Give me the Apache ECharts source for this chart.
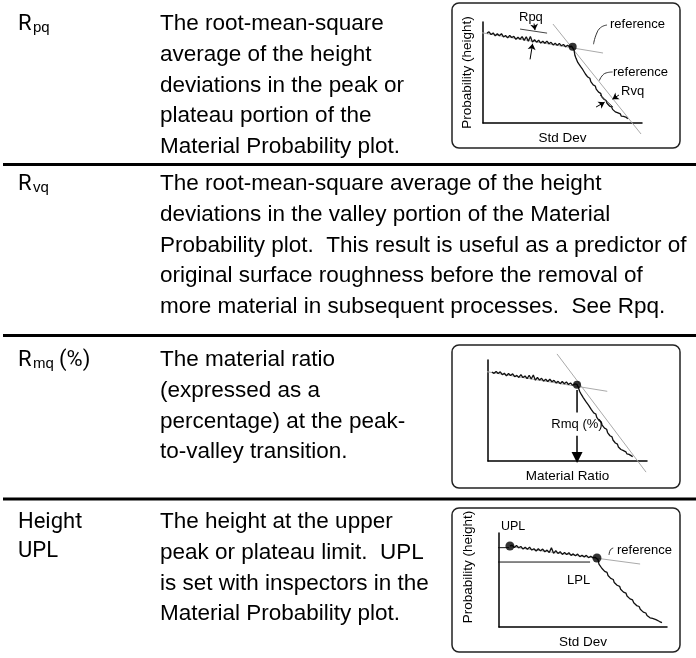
<!DOCTYPE html>
<html><head><meta charset="utf-8">
<script src="https://cdn.jsdelivr.net/npm/echarts@6/dist/echarts.min.js"></script>
<style>html,body{margin:0;padding:0;background:#fff}#c{width:696px;height:658px}</style>
</head><body><div id="c"></div>
<script>
// ---------- text content ----------
const rowLabels = [
  [{t:'R', k:'main'}, {t:'pq', k:'sub'}],
  [{t:'R', k:'main'}, {t:'vq', k:'sub'}],
  [{t:'R', k:'main'}, {t:'mq', k:'sub'}, {t:'(%)', k:'main'}],
  [{t:'Height', k:'main'}]
];
const rowLabel2 = ['', '', '', 'UPL'];
const rowTexts = [
  ['The root-mean-square', 'average of the height', 'deviations in the peak or', 'plateau portion of the', 'Material Probability plot.'],
  ['The root-mean-square average of the height', 'deviations in the valley portion of the Material', 'Probability plot.  This result is useful as a predictor of', 'original surface roughness before the removal of', 'more material in subsequent processes.  See Rpq.'],
  ['The material ratio', '(expressed as a', 'percentage) at the peak-', 'to-valley transition.'],
  ['The height at the upper', 'peak or plateau limit.  UPL', 'is set with inspectors in the', 'Material Probability plot.']
];
const rowTop = [24, 184, 360, 522];
const lineStep = 30.7;
const separators = [164.5, 335.5, 499];

// ---------- diagram 1 (Rpq / Rvq) ----------
const curve1 = [[2.5,89],[3.8,90.3],[5.1,87.55],[6.4,89.2],[7.7,86.3],[9,88.3],[10.3,86.45],[11.6,88.5],[12.9,85.2],[14.2,86.6],[15.5,84.25],[16.8,86.7],[18.1,84.7],[19.4,85.8],[20.7,82.85],[22,84.9],[23.3,82.9],[24.6,85.5],[25.9,81.85],[27.2,85.4],[28.5,81],[29.8,85.7],[31.1,80.05],[32.4,82.4],[33.7,80],[35,82],[36.3,79.15],[37.6,80.9],[38.9,78.9],[40.2,81.1],[41.5,78.45],[42.8,79.9],[44.1,77.3],[45.4,78.9],[46.7,76.85],[48,78.8],[49.3,76.4],[50.6,77.8],[51.9,75.45],[53.2,77],[54.5,75.4],[55.8,76],[56.6,75.5],
  [57.3,72],[57.8,67],[58.5,64],[59.2,63.5],[59.6,60],[60.8,59.2],[61.3,56],[62.2,57],[62.7,53],[63.9,52],[64.4,48.5],[65.3,49.2],[65.9,45.5],[67.2,44.3],[67.8,41],[68.7,41.6],[69.3,37.8],[70.6,36.6],[71.2,33.5],[72.1,34],[72.7,30.5],[74,29.4],[74.6,26.2],[75.5,26.8],[76.1,23.5],[77.4,22.3],[78,19.5],[79,20],[79.6,16.8],[80.9,15.9],[81.5,13.5],[82.5,14],[83.2,11],[84.5,10.3],[85.2,8.5],[86.4,9],[87,6.8],[88.4,6.5],[89.2,5],[90.2,5.6],[91,4]];
const ref1a = [[-4,90.2],[75.5,69.3]];
const ref1b = [[44,98],[99.4,-10.9]];
const knee1 = [[56.4,75.5]];
const rpqLine = [[23.3,93],[40.3,89]];
const rvqLine = [[73.6,27.7],[81.8,15.8]];
const arrows1 = [[[32.1,98.5],[32.7,92]],[[29.6,63],[31.2,78.5]],[[85.5,27.7],[81.4,23.6]],[[71.1,15.8],[76.5,20.6]]];
const leader1a = [[78,97],[74,94.5],[71.3,88],[69.5,78]];
const leader1b = [[81.5,50.5],[77.5,49.6],[74.8,46.5],[73.2,42]];

// ---------- diagram 2 (Rmq) ----------
const curve2 = [[2.5,88],[3.8,86.8],[5.1,88.7],[6.4,86.6],[7.7,88.3],[9,85.4],[10.3,86.9],[11.6,84.3],[12.9,86.6],[14.2,84.7],[15.5,86.35],[16.8,83.45],[18.1,84.75],[19.4,82.75],[20.7,85.45],[22,82.65],[23.3,84.25],[24.6,81.45],[25.9,84.9],[27.2,81.2],[28.5,85.1],[29.8,80],[31.1,82.7],[32.4,80.1],[33.7,81.9],[35,79.1],[36.3,80.9],[37.6,78.7],[38.9,80.9],[40.2,78.5],[41.5,79.85],[42.8,77.35],[44.1,78.85],[45.4,76.55],[46.7,78.75],[48,76.55],[49.3,78.25],[50.6,75.75],[51.9,77.3],[53.2,75],[54.5,76.3],[56,75.8],
  [56.8,73],[57.6,69],[58.3,67],[59.3,66.4],[59.9,62.8],[61.1,61.9],[61.7,58.5],[62.6,59.1],[63.2,55.3],[64.4,54.2],[65,50.8],[65.9,51.4],[66.5,47.6],[67.8,46.5],[68.4,43.2],[69.3,43.8],[69.9,40],[71.2,38.8],[71.8,35.6],[72.7,36.2],[73.3,32.5],[74.6,31.4],[75.2,28.2],[76.1,28.8],[76.7,25],[78,23.9],[78.6,20.8],[79.5,21.4],[80.1,17.8],[81.4,16.7],[82,13.9],[83,14.5],[83.6,11.4],[84.9,10.5],[85.6,8.6],[86.7,9.1],[87.4,7],[88.7,6.6],[89.5,5.2],[91,4.3]];
const ref2a = [[-3,89],[75,69]];
const ref2b = [[43.4,106],[99.4,-11]];
const knee2 = [[56,75.5]];
const rmqStem = [[56,70.3],[56,48]];
const rmqArrow = [[56,25],[56,3.5]];

// ---------- diagram 3 (Height UPL) ----------
const curve3 = [[6.5,86.2],[7.8,87.1],[9.1,84.6],[10.4,86.75],[11.7,84.25],[13,85.7],[14.3,82.9],[15.6,84.8],[16.9,82.8],[18.2,84.95],[19.5,81.85],[20.8,83.3],[22.1,80.9],[23.4,83.3],[24.7,81],[26,82.85],[27.3,80.05],[28.6,81.85],[29.9,79.2],[31.2,84.2],[32.5,78.4],[33.8,81.2],[35.1,78.25],[36.4,80.15],[37.7,77.25],[39,79.2],[40.3,77.2],[41.6,79],[42.9,76.2],[44.2,77.75],[45.5,75.75],[46.8,77.55],[48.1,74.8],[49.4,76.4],[50.7,74.6],[52,76.2],[53.3,73.75],[54.6,75.35],[55.9,73.65],[57.2,74.15],[58.3,73.6],
  [59,71.5],[59.5,67],[60.6,66.2],[61.2,62.5],[62.3,63],[62.9,59.2],[64.3,58.1],[64.9,54.8],[65.9,55.4],[66.5,51.7],[68,50.5],[68.6,47.4],[69.6,48],[70.3,44.4],[71.8,43.3],[72.4,40.2],[73.4,40.8],[74.1,37.1],[75.6,36],[76.2,33],[77.3,33.6],[78,29.9],[79.5,28.8],[80.2,25.8],[81.2,26.4],[81.9,22.8],[83.4,21.8],[84.1,18.8],[85.2,19.4],[85.9,15.8],[87.4,14.9],[88.1,12.2],[89.2,12.7],[89.9,9.8],[91.4,9.1],[92.2,7.4],[93.4,7.9],[94.2,6.2],[95.6,5.8],[97,4.6]];
const ref3 = [[6.5,85.5],[84,67]];
const uplLine = [[-4,84.4],[6,84.4]];
const lplLine = [[-3.6,69.1],[54.2,69.1]];
const dots3 = [[6.5,86.2],[58.3,73.4]];
const leader3 = [[65.5,76.6],[66.3,82],[68,84]];

// ---------- build ----------
const BODY = '"Liberation Sans", Arial, sans-serif';
const LABEL = 'Roboto, "Liberation Sans", sans-serif';
const graphics = [];
separators.forEach(y => graphics.push({type:'rect', shape:{x:3, y:y-1.5, width:693, height:3}, style:{fill:'#000'}, silent:true}));
[[452,3,228,145],[452,345,228,143],[452,508,228,144]].forEach(b => graphics.push({type:'rect', shape:{x:b[0], y:b[1], width:b[2], height:b[3], r:7}, style:{fill:'none', stroke:'#222', lineWidth:1.5}, silent:true, z:1}));
function txt(s, x, y, size, fam, extra) {
  return {type:'text', x:x, y:y, silent:true, z:5, style:Object.assign({text:s, fontSize:size, fontFamily:fam, fill:'#000', align:'left', verticalAlign:'middle', textAlign:'left', textVerticalAlign:'middle'}, extra||{})};
}
rowTexts.forEach((lines, r) => lines.forEach((l, i) => graphics.push(txt(l, 160, rowTop[r] + i*lineStep, 22.5, BODY))));
rowLabels.forEach((parts, r) => {
  let x = 18;
  parts.forEach(p => {
    if (p.k === 'main') {
      graphics.push(txt(p.t, x, rowTop[r], 22, LABEL));
      x += 15;
    } else {
      graphics.push(txt(p.t, x, rowTop[r] + 4, 15, BODY));
      x += 26;
    }
  });
  if (rowLabel2[r]) graphics.push(txt(rowLabel2[r], 18, rowTop[r] + 29, 22, LABEL));
});
// diagram annotations
const D = '"Liberation Sans", Arial, sans-serif';
graphics.push(txt('Rpq', 519, 17, 13, D));
graphics.push(txt('reference', 610, 24, 13, D));
graphics.push(txt('reference', 613, 72, 13, D));
graphics.push(txt('Rvq', 621, 91, 13, D));
graphics.push(txt('Rmq (%)', 577, 424, 13, D, {align:'center', textAlign:'center'}));
graphics.push(txt('UPL', 501, 527, 12.5, D));
graphics.push(txt('LPL', 567, 580, 13, D));
graphics.push(txt('reference', 617, 550, 13, D));

const grids = [
  {left:483, top:22, width:159, height:101},
  {left:488, top:360, width:159, height:101},
  {left:499, top:533, width:168, height:94}
];
const axisBase = {type:'value', min:0, max:100, axisTick:{show:false}, axisLabel:{show:false}, splitLine:{show:false},
  axisLine:{show:true, lineStyle:{color:'#000', width:1.5}}, nameLocation:'middle', nameTextStyle:{fontSize:13.5, fontFamily:D, color:'#000'}};
const xNames = ['Std Dev', 'Material Ratio', 'Std Dev'];
const yNames = ['Probability (height)', '', 'Probability (height)'];
const xAxis = grids.map((g, i) => Object.assign({}, axisBase, {gridIndex:i, name:xNames[i], nameGap:8}));
const yAxis = grids.map((g, i) => Object.assign({}, axisBase, {gridIndex:i, name:yNames[i], nameGap: i === 2 ? 24 : 9,
  nameTextStyle:Object.assign({}, axisBase.nameTextStyle, {padding: i === 2 ? [0,0,0,26] : [0,0,0,0]})}));

const series = [];
function line(i, data, color, width, extra) {
  series.push(Object.assign({type:'line', xAxisIndex:i, yAxisIndex:i, data:data, symbol:'none', showSymbol:false, clip:false, silent:true, animation:false,
    lineStyle:{color:color, width:width}, z:3}, extra||{}));
}
function dots(i, data, size) {
  series.push({type:'scatter', xAxisIndex:i, yAxisIndex:i, data:data, symbolSize:size, itemStyle:{color:'#000'}, silent:true, animation:false, z:6, clip:false});
}
function arrows(i, list, sym, size, width) {
  series.push({type:'line', xAxisIndex:i, yAxisIndex:i, data:[], silent:true, animation:false,
    markLine:{silent:true, animation:false, symbol:['none', sym], symbolSize:size, label:{show:false},
      lineStyle:{color:'#000', width:width, type:'solid'},
      data:list.map(a => [{coord:a[0]}, {coord:a[1]}])}});
}
// d1
line(0, ref1a, '#aaa', 1); line(0, ref1b, '#aaa', 1);
line(0, curve1, '#111', 1.3);
line(0, rpqLine, '#444', 1);
line(0, rvqLine, '#444', 1);
line(0, leader1a, '#333', 1, {smooth:true});
line(0, leader1b, '#333', 1, {smooth:true});
dots(0, knee1, 8);
arrows(0, arrows1, 'arrow', 6, 1);
// d2
line(1, ref2a, '#aaa', 1); line(1, ref2b, '#aaa', 1);
line(1, curve2, '#111', 1.3);
line(1, rmqStem, '#000', 1.5);
dots(1, knee2, 8);
arrows(1, [rmqArrow], 'triangle', 11, 1.5);
// d3
line(2, ref3, '#aaa', 1);
line(2, uplLine, '#111', 1);
line(2, lplLine, '#111', 1);
line(2, curve3, '#111', 1.3);
line(2, leader3, '#333', 1, {smooth:true});
dots(2, dots3, 9);

const chart = echarts.init(document.getElementById('c'), null, {renderer:'canvas'});
chart.setOption({animation:false, backgroundColor:'#fff', grid:grids, xAxis:xAxis, yAxis:yAxis, series:series, graphic:{elements:graphics}});
</script></body></html>
